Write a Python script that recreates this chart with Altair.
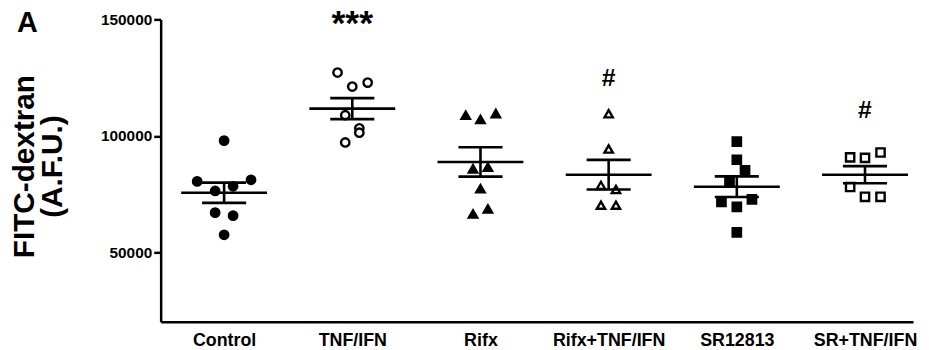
import json
import altair as alt
import pandas as pd

# ---- data ----
groups = ["Control", "TNF/IFN", "Rifx", "Rifx+TNF/IFN", "SR12813", "SR+TNF/IFN"]

control = [98000, 80500, 81200, 78400, 76400, 67100, 65800, 57600]
tnf_ifn = [127200, 122900, 121200, 108900, 103300, 101400, 97200]
rifx = [108900, 107100, 109600, 85900, 86600, 77400, 66500, 68700]
rifx_tnf = [109500, 94400, 78800, 77000, 70300, 70300]
sr12813 = [97600, 89800, 85200, 80600, 71700, 72800, 69600, 58600]
sr_tnf = [90800, 90600, 92900, 78100, 73900, 73900]

# horizontal scatter of the dots, as a fraction of the category step
control_off = [0, -0.21, 0.21, 0.07, -0.07, -0.07, 0.07, 0]
tnf_ifn_off = [-0.115, 0.12, 0, -0.055, 0.055, 0.055, -0.055]
rifx_off = [-0.115, 0, 0.12, -0.058, 0.058, 0, -0.058, 0.058]
rifx_tnf_off = [0, 0, -0.06, 0.057, -0.06, 0.057]
sr12813_off = [0, 0, 0.064, -0.057, -0.12, 0.118, 0, 0]
sr_tnf_off = [-0.116, 0, 0.121, -0.116, 0, 0.121]

ann_text = ["***", "#", "#"]
ann_group = ["TNF/IFN", "Rifx+TNF/IFN", "SR+TNF/IFN"]
ann_value = [150000, 125000, 111000]

y_ticks = [50000, 100000, 150000]
panel_label = "A"

# ---- tables ----
values = [control, tnf_ifn, rifx, rifx_tnf, sr12813, sr_tnf]
offsets = [control_off, tnf_ifn_off, rifx_off, rifx_tnf_off, sr12813_off, sr_tnf_off]
rows = []
for i, (g, vals, offs) in enumerate(zip(groups, values, offsets)):
    for v, o in zip(vals, offs):
        rows.append({"group": g, "idx": i, "value": v, "pos": i + o})
df = pd.DataFrame(rows)

ann = pd.DataFrame({
    "text": ann_text,
    "idx": [groups.index(g) for g in ann_group],
    "value": ann_value,
})

FONT = "Liberation Sans"
xscale = alt.Scale(domain=[-0.495, 5.375], nice=False, zero=False)
yscale = alt.Scale(domain=[20300, 150000], nice=False, zero=False)

label_expr = json.dumps(groups) + "[datum.value]"

base = alt.Chart(df)

points = base.mark_point(stroke="black", strokeWidth=2.4, opacity=1).encode(
    x=alt.X("pos:Q", scale=xscale,
            axis=alt.Axis(values=list(range(len(groups))), labelExpr=label_expr,
                          ticks=False, grid=False, title=None,
                          domainWidth=2.5, domainColor="black",
                          labelFontSize=18, labelFontWeight="bold", labelFont=FONT,
                          labelColor="black", labelPadding=10)),
    y=alt.Y("value:Q", scale=yscale,
            axis=alt.Axis(values=y_ticks, format="d", grid=False,
                          domainWidth=2.5, domainColor="black",
                          tickSize=7, tickWidth=2.5, tickColor="black",
                          labelFontSize=15.5, labelFontWeight="bold", labelFont=FONT,
                          labelColor="black", labelPadding=2,
                          title=["FITC-dextran", "(A.F.U.)"],
                          titleFontSize=30, titleFontWeight="bold", titleFont=FONT,
                          titleColor="black", titleX=-152, titleY=148,
                          titleBaseline="top", titleLineHeight=28, titleAngle=270)),
    shape=alt.Shape("group:N", scale=alt.Scale(domain=groups,
        range=["circle", "circle", "triangle-up", "triangle-up", "square", "square"]), legend=None),
    fill=alt.Fill("group:N", scale=alt.Scale(domain=groups,
        range=["black", "white", "black", "white", "black", "white"]), legend=None),
    size=alt.Size("group:N", scale=alt.Scale(domain=groups,
        range=[72, 70, 76, 72, 54, 58]), legend=None),
)

stats = base.transform_aggregate(
    mean="mean(value)", sem="stderr(value)", groupby=["group", "idx"]
).transform_calculate(
    lo="datum.mean - datum.sem", hi="datum.mean + datum.sem",
    ml="datum.idx - 0.335", mr="datum.idx + 0.335",
    cl="datum.idx - 0.172", cr="datum.idx + 0.172",
)

rule_style = dict(color="black", strokeWidth=2.6)
mean_line = stats.mark_rule(**rule_style).encode(
    x=alt.X("ml:Q", scale=xscale), x2="mr:Q",
    y=alt.Y("mean:Q", scale=yscale),
)
cap_hi = stats.mark_rule(**rule_style).encode(
    x=alt.X("cl:Q", scale=xscale), x2="cr:Q",
    y=alt.Y("hi:Q", scale=yscale),
)
cap_lo = stats.mark_rule(**rule_style).encode(
    x=alt.X("cl:Q", scale=xscale), x2="cr:Q",
    y=alt.Y("lo:Q", scale=yscale),
)
stem = stats.mark_rule(**rule_style).encode(
    x=alt.X("idx:Q", scale=xscale),
    y=alt.Y("lo:Q", scale=yscale), y2="hi:Q",
)

ann_chart = alt.Chart(ann)
stars = ann_chart.transform_filter("datum.text == '***'").mark_text(
    font=FONT, fontWeight="bold", fontSize=36, baseline="alphabetic", align="center",
    color="black", dy=16).encode(
    x=alt.X("idx:Q", scale=xscale),
    y=alt.Y("value:Q", scale=yscale),
    text="text:N",
)
hashes = ann_chart.transform_filter("datum.text != '***'").mark_text(
    font=FONT, fontWeight="bold", fontSize=25, baseline="middle", align="center",
    color="black").encode(
    x=alt.X("idx:Q", scale=xscale),
    y=alt.Y("value:Q", scale=yscale),
    text="text:N",
)

label_a = alt.Chart(pd.DataFrame({"t": [panel_label]})).mark_text(
    font=FONT, fontWeight="bold", fontSize=29, baseline="alphabetic", align="left",
    color="black").encode(
    x=alt.value(-145), y=alt.value(12.5), text="t:N",
)

chart = alt.layer(points, mean_line, cap_hi, cap_lo, stem, stars, hashes, label_a).properties(
    width=759, height=305,
    autosize=alt.AutoSizeParams(type="none"),
    padding={"left": 154, "top": 10, "right": 8, "bottom": 27},
).configure(background="white").configure_view(stroke=None)

chart.save("out.html", embed_options={"renderer": "svg", "actions": False})
